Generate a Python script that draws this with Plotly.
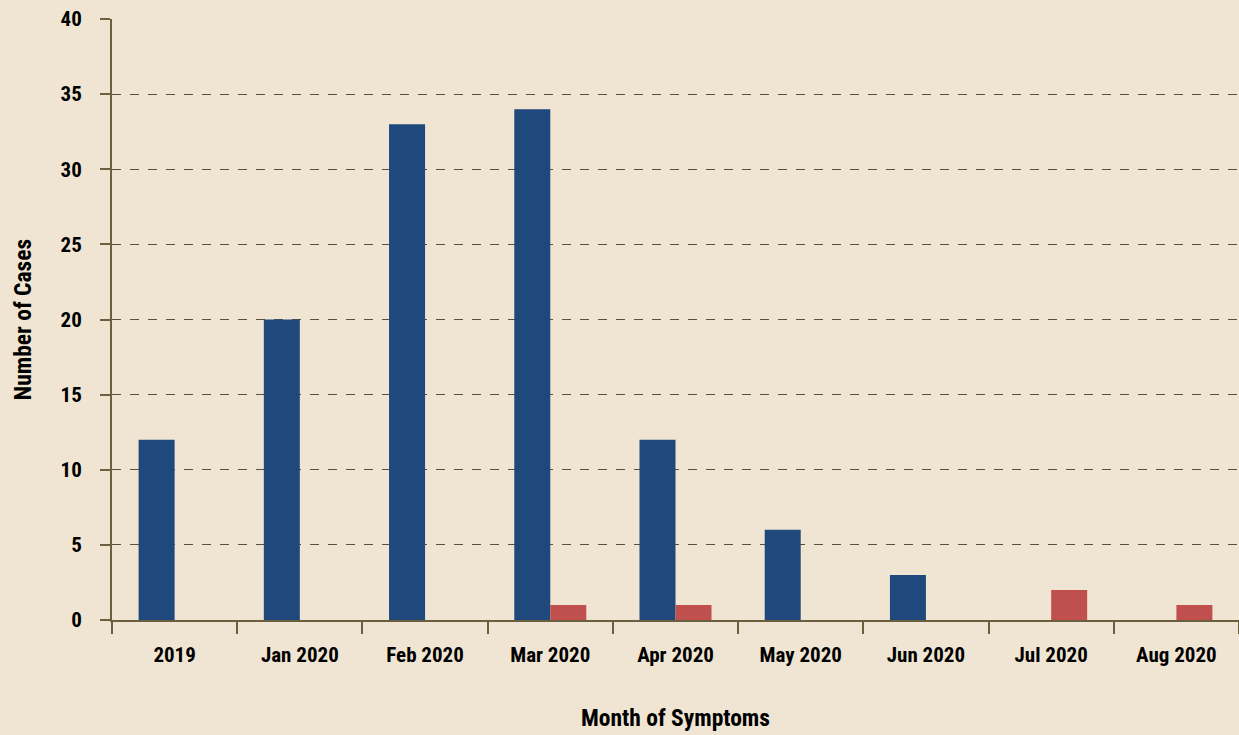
import plotly.graph_objects as go

categories = ["2019", "Jan 2020", "Feb 2020", "Mar 2020", "Apr 2020", "May 2020", "Jun 2020", "Jul 2020", "Aug 2020"]
series_a = [12, 20, 33, 34, 12, 6, 3, 0, 0]
series_b = [0, 0, 0, 1, 1, 0, 0, 2, 1]
y_ticks = [0, 5, 10, 15, 20, 25, 30, 35, 40]

FONT = "Roboto Condensed, Open Sans Condensed, DejaVu Sans"
BG = "#f0e5d2"
AX = "#6b5f3f"

fig = go.Figure()
fig.add_trace(go.Bar(x=categories, y=series_a, marker=dict(color="#1f497d", line=dict(width=0)), name="A"))
fig.add_trace(go.Bar(x=categories, y=series_b, marker=dict(color="#c0504d", line=dict(width=0)), name="B"))

fig.update_layout(
    width=1239, height=735,
    barmode="group", bargap=0.425, bargroupgap=0,
    paper_bgcolor=BG, plot_bgcolor=BG,
    showlegend=False,
    margin=dict(l=112, r=0, t=19, b=115),
    font=dict(family=FONT, color="#000000", size=21, weight="bold"),
)
fig.update_xaxes(
    showline=True, linecolor=AX, linewidth=2,
    ticks="outside", tickson="boundaries", ticklen=12, tickcolor=AX, tickwidth=2,
    tickfont=dict(family=FONT, size=21, weight="bold", color="#000000"),
    ticklabelstandoff=15,
    showgrid=False,
    title=dict(text="Month of Symptoms", font=dict(family=FONT, size=23.5, weight="bold"), standoff=43),
)
fig.update_yaxes(
    range=[0, 40], tickvals=y_ticks,
    showline=True, linecolor=AX, linewidth=2,
    ticks="outside", ticklen=10, tickcolor=AX, tickwidth=2,
    ticklabelstandoff=14,
    showgrid=True, gridcolor="#5a5035", griddash="dash", gridwidth=1,
    zeroline=False,
    tickfont=dict(family=FONT, size=21, weight="bold", color="#000000"),
    title=dict(text="Number of Cases", font=dict(family=FONT, size=23.5, weight="bold"), standoff=22),
)

fig.write_html("out.html", config={"displayModeBar": False},
               post_script="document.body.style.margin='0';document.body.style.background='%s';" % BG)
